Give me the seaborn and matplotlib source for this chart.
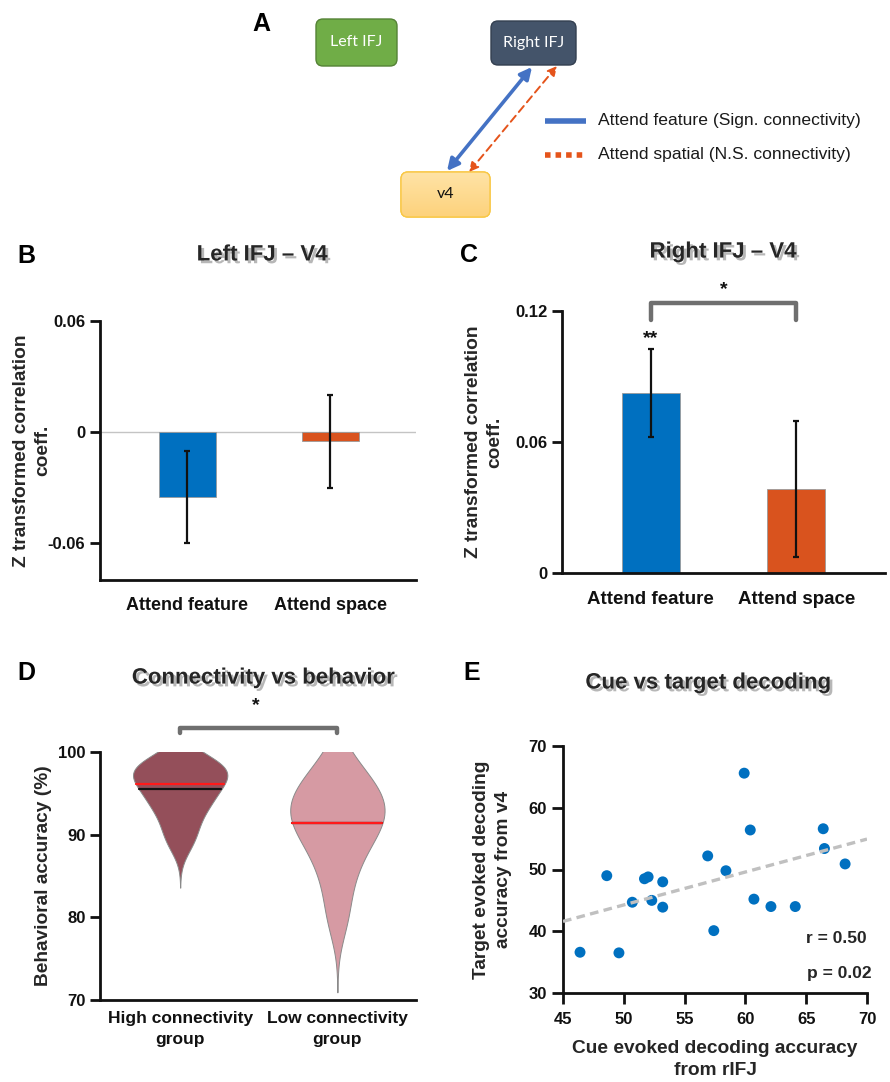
import numpy as np
import pandas as pd
import matplotlib
matplotlib.use("Agg")
import matplotlib.pyplot as plt
import seaborn as sns
from matplotlib import patheffects as pe
from matplotlib.patches import FancyBboxPatch, FancyArrowPatch
from matplotlib.colors import LinearSegmentedColormap

# ---------------- data ----------------
conditions = ["Attend feature", "Attend space"]
bar_colors = ["#0070C0", "#D9531E"]
left_ifj_v4_mean = [-0.035, -0.005]
left_ifj_v4_err = [0.025, 0.025]
right_ifj_v4_mean = [0.0825, 0.0385]
right_ifj_v4_err = [0.020, 0.031]

groups = ["High connectivity\ngroup", "Low connectivity\ngroup"]
violin_colors = ["#944F5A", "#D69AA3"]
high_conn_acc = [99, 98.5, 98, 97.5, 97, 96, 95, 94, 93, 91, 89]
low_conn_acc = [98.5, 96.5, 95, 94, 93, 92, 91, 89.5, 87.5, 84.5, 80]
red_line_vals = [96.1, 91.4]
black_line_vals = [95.5, 91.4]

cue_decoding = [46.4, 48.6, 49.6, 50.7, 51.7, 52.0, 52.3, 53.2, 53.2, 56.9,
                57.4, 58.4, 59.9, 60.4, 60.7, 62.1, 64.1, 66.4, 66.5, 68.2]
target_decoding = [36.6, 49.0, 36.5, 44.7, 48.5, 48.8, 45.0, 48.0, 43.9, 52.2,
                   40.1, 49.8, 65.6, 56.4, 45.2, 44.0, 44.0, 56.6, 53.4, 50.9]
r_text = "r = 0.50"
p_text = "p = 0.02"

# ---------------- style ----------------
sns.set_style("ticks")
plt.rcParams["font.family"] = ["Liberation Sans", "DejaVu Sans"]
plt.rcParams["font.weight"] = "bold"
plt.rcParams["axes.labelweight"] = "bold"
plt.rcParams["axes.linewidth"] = 2.0
plt.rcParams["xtick.major.width"] = 2.0
plt.rcParams["ytick.major.width"] = 2.0

W, H = 890, 1082
fig = plt.figure(figsize=(W / 100, H / 100), dpi=100)


def box(l, t, r, b):
    return [l / W, 1 - b / H, (r - l) / W, (b - t) / H]


shadow = [pe.SimplePatchShadow(offset=(2, -2), shadow_rgbFace="#888888", alpha=0.6), pe.Normal()]
TICK = 12
LAB = 13.8
TITLE = 16


def style_axes(ax):
    sns.despine(ax=ax)
    for s in ["left", "bottom"]:
        ax.spines[s].set_linewidth(2.0)
        ax.spines[s].set_color("#111111")
    ax.tick_params(axis="both", labelsize=TICK, colors="#111111", length=7, width=2)


# ---------------- panel A (diagram) ----------------
axA = fig.add_axes([0, 0, 1, 1], zorder=-1)
axA.set_xlim(0, W)
axA.set_ylim(H, 0)
axA.axis("off")


def node(l, t, r, b, fc, ec, label, tc, grad=None):
    p = FancyBboxPatch((l, t), r - l, b - t, boxstyle="round,pad=0,rounding_size=7",
                       fc=fc, ec=ec, lw=1.0, zorder=2)
    axA.add_patch(p)
    if grad is not None:
        cmap = LinearSegmentedColormap.from_list("g", grad)
        im = axA.imshow(np.linspace(0, 1, 64).reshape(-1, 1), cmap=cmap, aspect="auto",
                        extent=(l, r, b, t), zorder=2.5, interpolation="bilinear")
        im.set_clip_path(p)
        edge = FancyBboxPatch((l, t), r - l, b - t, boxstyle="round,pad=0,rounding_size=7",
                              fc="none", ec=ec, lw=1.0, zorder=3)
        axA.add_patch(edge)
    axA.text((l + r) / 2, (t + b) / 2, label, ha="center", va="center", color=tc,
             fontsize=11.5, fontweight="normal", family=["Lato", "DejaVu Sans"], zorder=4)


node(316, 19, 397, 66, "#70AD47", "#548235", "Left IFJ", "white")
node(491, 21, 576, 65, "#44546A", "#333F50", "Right IFJ", "white")
node(401, 172, 490, 217, "#FDD78A", "#F9C846", "v4", "#111111",
     grad=["#FFE3A6", "#FDD27C"])
axA.set_xlim(0, W)
axA.set_ylim(H, 0)

axA.add_patch(FancyArrowPatch((447, 171), (532, 67), arrowstyle="<|-|>,head_length=7,head_width=3.5",
                              color="#4472C4", lw=2.6, shrinkA=0, shrinkB=0, zorder=5))
axA.add_patch(FancyArrowPatch((469, 172), (557, 66), arrowstyle="<|-|>,head_length=5.5,head_width=2.8",
                              color="#E5541B", lw=1.4, ls=(0, (4, 2.5)), shrinkA=0, shrinkB=0,
                              zorder=5))

axA.plot([545, 586], [121, 121], color="#4472C4", lw=4, solid_capstyle="butt")
axA.plot([545, 586], [155, 155], color="#E5541B", lw=4, ls=(0, (1.0, 0.9)), dash_capstyle="butt")
axA.text(598, 121, "Attend feature (Sign. connectivity)", va="center", ha="left",
         fontsize=12.6, fontweight="normal", color="#1a1a1a")
axA.text(598, 155, "Attend spatial (N.S. connectivity)", va="center", ha="left",
         fontsize=12.6, fontweight="normal", color="#1a1a1a")

# panel letters
for letter, (px, py) in {"A": (261, 24), "B": (26, 256), "C": (469, 255),
                         "D": (26, 673), "E": (472, 673)}.items():
    fig.text(px / W, 1 - py / H, letter, ha="center", va="center", fontsize=18,
             fontweight="bold", color="black")

# ---------------- panel B ----------------
axB = fig.add_axes(box(100, 321, 416, 580))
dfB = pd.DataFrame({"cond": conditions, "val": left_ifj_v4_mean})
sns.barplot(data=dfB, x="cond", y="val", hue="cond", palette=bar_colors, width=0.4,
            saturation=1, edgecolor="#9a9a9a", linewidth=0.6, legend=False, ax=axB, zorder=2)
axB.errorbar(x=[0, 1], y=left_ifj_v4_mean, yerr=left_ifj_v4_err, fmt="none",
             ecolor="#111111", elinewidth=1.6, capsize=2.5, capthick=1.6, zorder=4)
axB.axhline(0, color="#c4c4c4", lw=1.0, zorder=1)
axB.set_xlim(-0.61, 1.6)
axB.set_ylim(-0.08, 0.06)
axB.set_yticks([-0.06, 0, 0.06])
axB.set_yticklabels(["-0.06", "0", "0.06"])
style_axes(axB)
axB.tick_params(axis="x", length=0, pad=12, labelsize=13)
axB.set_xlabel("")
axB.set_ylabel("Z transformed correlation\ncoeff.", fontsize=LAB, linespacing=1.3)
axB.yaxis.set_label_coords(-0.155, 0.5)
axB.text(0.513, 1.255, "Left IFJ \u2013 V4", transform=axB.transAxes, ha="center",
         va="center", fontsize=TITLE, path_effects=shadow)

# ---------------- panel C ----------------
axC = fig.add_axes(box(562, 311, 885, 573))
dfC = pd.DataFrame({"cond": conditions, "val": right_ifj_v4_mean})
sns.barplot(data=dfC, x="cond", y="val", hue="cond", palette=bar_colors, width=0.4,
            saturation=1, edgecolor="#9a9a9a", linewidth=0.6, legend=False, ax=axC, zorder=2)
axC.errorbar(x=[0, 1], y=right_ifj_v4_mean, yerr=right_ifj_v4_err, fmt="none",
             ecolor="#111111", elinewidth=1.6, capsize=2.5, capthick=1.6, zorder=4)
axC.set_xlim(-0.61, 1.61)
axC.set_ylim(0, 0.12)
axC.set_yticks([0, 0.06, 0.12])
axC.set_yticklabels(["0", "0.06", "0.12"])
style_axes(axC)
axC.tick_params(axis="x", length=0, pad=13, labelsize=13.5)
axC.set_xlabel("")
axC.set_ylabel("Z transformed correlation\ncoeff.", fontsize=LAB, linespacing=1.3)
axC.yaxis.set_label_coords(-0.183, 0.5)
axC.plot([0, 0, 1, 1], [0.1159, 0.1237, 0.1237, 0.1159], color="#6f6f6f", lw=3.2,
         clip_on=False, solid_joinstyle="round")
axC.text(0.5, 0.1296, "*", ha="center", va="center", fontsize=14, color="#111111")
axC.text(0, 0.1075, "**", ha="center", va="center", fontsize=14, color="#111111")
axC.text(0.498, 1.225, "Right IFJ \u2013 V4", transform=axC.transAxes, ha="center",
         va="center", fontsize=TITLE, path_effects=shadow)

# ---------------- panel D ----------------
axD = fig.add_axes(box(100, 752, 416, 1000))
dfD = pd.DataFrame({"group": [groups[0]] * len(high_conn_acc) + [groups[1]] * len(low_conn_acc),
                    "acc": high_conn_acc + low_conn_acc})
sns.violinplot(data=dfD, x="group", y="acc", hue="group", palette=violin_colors,
               order=groups, hue_order=groups, cut=3, bw_adjust=0.9, inner=None,
               density_norm="width", width=0.6, linewidth=0.7, linecolor="#8a8a8a",
               saturation=1, legend=False, ax=axD)
axD.set_xlim(-0.51, 1.5)
axD.set_ylim(70, 100)
axD.set_yticks([70, 80, 90, 100])
style_axes(axD)
axD.tick_params(axis="x", length=0, pad=8, labelsize=12.5)
for t in axD.get_xticklabels():
    t.set_linespacing(1.45)
axD.set_xlabel("")
axD.set_ylabel("Behavioral accuracy (%)", fontsize=LAB)
axD.yaxis.set_label_coords(-0.152, 0.5)

# mean / median lines spanning the violin width
polys = [c for c in axD.collections]
for i, coll in enumerate(polys[:2]):
    v = coll.get_paths()[0].vertices
    right = v[v[:, 0] >= i]
    order = np.argsort(right[:, 1])
    ys, xs = right[order, 1], right[order, 0]
    for val, col, z in [(black_line_vals[i], "#111111", 3), (red_line_vals[i], "#FF1A1A", 4)]:
        hw = np.interp(val, ys, xs) - i
        axD.plot([i - hw, i + hw], [val, val], color=col, lw=1.6, zorder=z)

axD.plot([0, 0, 1, 1], [102.3, 102.9, 102.9, 102.3], color="#6f6f6f", lw=3.2,
         clip_on=False)
axD.text(0.48, 105.6, "*", ha="center", va="center", fontsize=14, color="#111111")
axD.text(0.516, 1.298, "Connectivity vs behavior", transform=axD.transAxes, ha="center",
         va="center", fontsize=TITLE, path_effects=shadow)

# ---------------- panel E ----------------
axE = fig.add_axes(box(563, 746, 867, 993))
axE.set_xlim(45, 70)
axE.set_ylim(30, 70)
sns.scatterplot(x=cue_decoding, y=target_decoding, color="#0070C0", s=62,
                edgecolor="none", ax=axE, zorder=3)
sns.regplot(x=cue_decoding, y=target_decoding, scatter=False, ci=None, truncate=False,
            color="#C0C0C0", line_kws=dict(ls=(0, (2.6, 1.6)), lw=2.4, zorder=4), ax=axE)
axE.set_xlim(45, 70)
axE.set_ylim(30, 70)
axE.set_xticks([45, 50, 55, 60, 65, 70])
axE.set_yticks([30, 40, 50, 60, 70])
style_axes(axE)
axE.tick_params(axis="both", length=8)
axE.tick_params(axis="x", pad=6)
axE.set_xlabel("Cue evoked decoding accuracy\nfrom rIFJ", fontsize=LAB, linespacing=1.4,
               labelpad=9)
axE.set_ylabel("Target evoked decoding\naccuracy from v4", fontsize=LAB, linespacing=1.35)
axE.yaxis.set_label_coords(-0.168, 0.5)
axE.text(70, 38.9, r_text, ha="right", va="center", fontsize=12.5)
axE.text(70.4, 33.1, p_text, ha="right", va="center", fontsize=12.5)
axE.text(0.477, 1.255, "Cue vs target decoding", transform=axE.transAxes, ha="center",
         va="center", fontsize=TITLE, path_effects=shadow)

fig.savefig("out.png", dpi=100, facecolor="white")
